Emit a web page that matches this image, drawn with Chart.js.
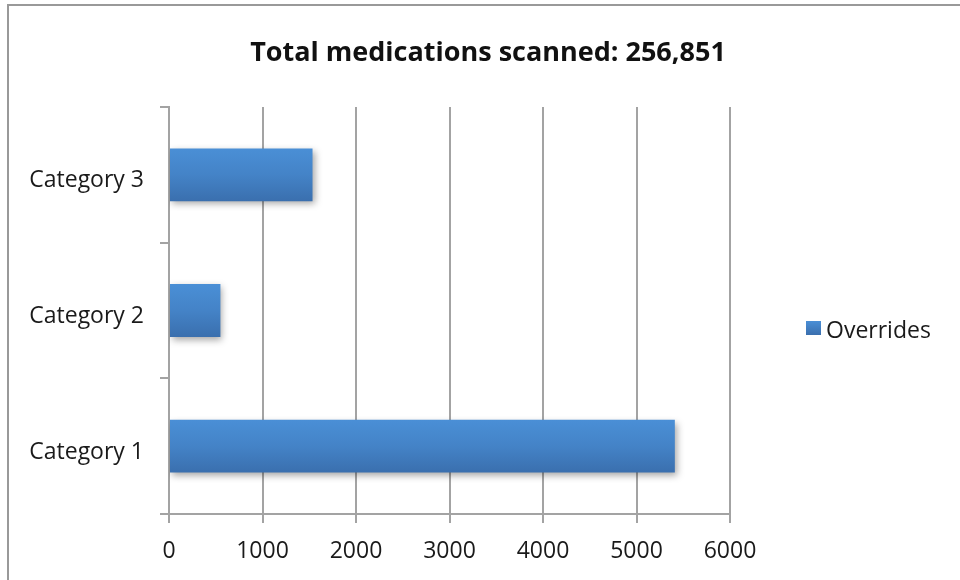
<!DOCTYPE html>
<html>
<head>
<meta charset="utf-8">
<script src="https://cdn.jsdelivr.net/npm/chart.js@4.4.1/dist/chart.umd.min.js"></script>
<style>
  html, body { margin: 0; padding: 0; background: #fff; }
  #wrap { width: 960px; height: 580px; }
</style>
</head>
<body>
<div id="wrap"><canvas id="overridesChart" width="960" height="580"></canvas></div>
<script>
const categories = ['Category 1', 'Category 2', 'Category 3'];
const overrides = [5410, 550, 1535];
const seriesLabel = 'Overrides';
const chartTitle = 'Total medications scanned: 256,851';
const xMax = 6000;
const xStep = 1000;

const FONT = '"Open Sans", "Liberation Sans", sans-serif';
const AXIS_GRAY = '#a3a3a3';
const BAR_TOP = '#4a8fd6';
const BAR_MID = '#4483c7';
const BAR_BOTTOM = '#3a6fae';
const BAR_PCT = 0.39;

const ctx = document.getElementById('overridesChart').getContext('2d');

// Vertical gradient for one bar, worked out from the category scale
function barGradient(context) {
  const chart = context.chart;
  const yScale = chart.scales.y;
  if (!yScale || context.dataIndex === undefined) return BAR_TOP;
  const center = yScale.getPixelForValue(context.dataIndex);
  const half = (yScale.height / categories.length) * BAR_PCT / 2;
  if (!isFinite(center) || !isFinite(half) || half <= 0) return BAR_TOP;
  const g = chart.ctx.createLinearGradient(0, center - half, 0, center + half);
  g.addColorStop(0, BAR_TOP);
  g.addColorStop(0.5, BAR_MID);
  g.addColorStop(1, BAR_BOTTOM);
  return g;
}

// Outer frame (left and top edges) and the centred title
const framePlugin = {
  id: 'framePlugin',
  beforeDraw(chart) {
    const c = chart.ctx;
    c.save();
    c.strokeStyle = '#999';
    c.lineWidth = 2;
    c.beginPath();
    c.moveTo(8, chart.height);
    c.lineTo(8, 5);
    c.lineTo(chart.width, 5);
    c.stroke();
    c.fillStyle = '#111';
    c.font = 'bold 27px ' + FONT;
    c.textAlign = 'center';
    c.textBaseline = 'middle';
    c.fillText(chartTitle, 488, 53);
    c.restore();
  }
};

// Soft drop shadow under the bars
const shadowPlugin = {
  id: 'shadowPlugin',
  beforeDatasetsDraw(chart) {
    const c = chart.ctx;
    c.save();
    c.shadowColor = 'rgba(0, 0, 0, 0.35)';
    c.shadowBlur = 7;
    c.shadowOffsetX = 2;
    c.shadowOffsetY = 3;
  },
  afterDatasetsDraw(chart) {
    chart.ctx.restore();
  }
};

// Single legend entry to the right of the plot
const legendPlugin = {
  id: 'legendPlugin',
  afterDraw(chart) {
    const c = chart.ctx;
    const x = 806;
    const y = 328;
    c.save();
    const g = c.createLinearGradient(0, y - 7, 0, y + 7);
    g.addColorStop(0, BAR_TOP);
    g.addColorStop(1, BAR_BOTTOM);
    c.fillStyle = g;
    c.fillRect(x, y - 7, 15, 14);
    c.fillStyle = '#1a1a1a';
    c.font = '23px ' + FONT;
    c.textBaseline = 'middle';
    c.fillText(chart.data.datasets[0].label, x + 20, y + 3);
    c.restore();
  }
};

const chart = new Chart(ctx, {
  type: 'bar',
  data: {
    labels: categories,
    datasets: [{
      label: seriesLabel,
      data: overrides,
      backgroundColor: barGradient,
      borderWidth: 0,
      barPercentage: BAR_PCT,
      categoryPercentage: 1
    }]
  },
  options: {
    indexAxis: 'y',
    responsive: false,
    animation: false,
    layout: { padding: { left: 0, right: 230, top: 107, bottom: 0 } },
    plugins: {
      legend: { display: false },
      tooltip: { enabled: false },
      title: { display: false }
    },
    scales: {
      x: {
        min: 0,
        max: xMax,
        ticks: {
          stepSize: xStep,
          color: '#1a1a1a',
          font: { family: FONT, size: 23 },
          padding: 15,
          callback: v => String(v)
        },
        grid: {
          color: AXIS_GRAY,
          lineWidth: 2,
          tickLength: 9,
          tickColor: AXIS_GRAY
        },
        border: { color: AXIS_GRAY, width: 2 },
        afterFit(scale) { scale.height = 66; }
      },
      y: {
        reverse: true,
        ticks: {
          color: '#1a1a1a',
          font: { family: FONT, size: 23 },
          padding: 16,
          labelOffset: 6
        },
        grid: {
          drawOnChartArea: false,
          tickLength: 9,
          tickColor: AXIS_GRAY,
          lineWidth: 2
        },
        border: { color: AXIS_GRAY, width: 2 },
        afterFit(scale) { scale.width = 169; }
      }
    }
  },
  plugins: [framePlugin, shadowPlugin, legendPlugin]
});
</script>
</body>
</html>
